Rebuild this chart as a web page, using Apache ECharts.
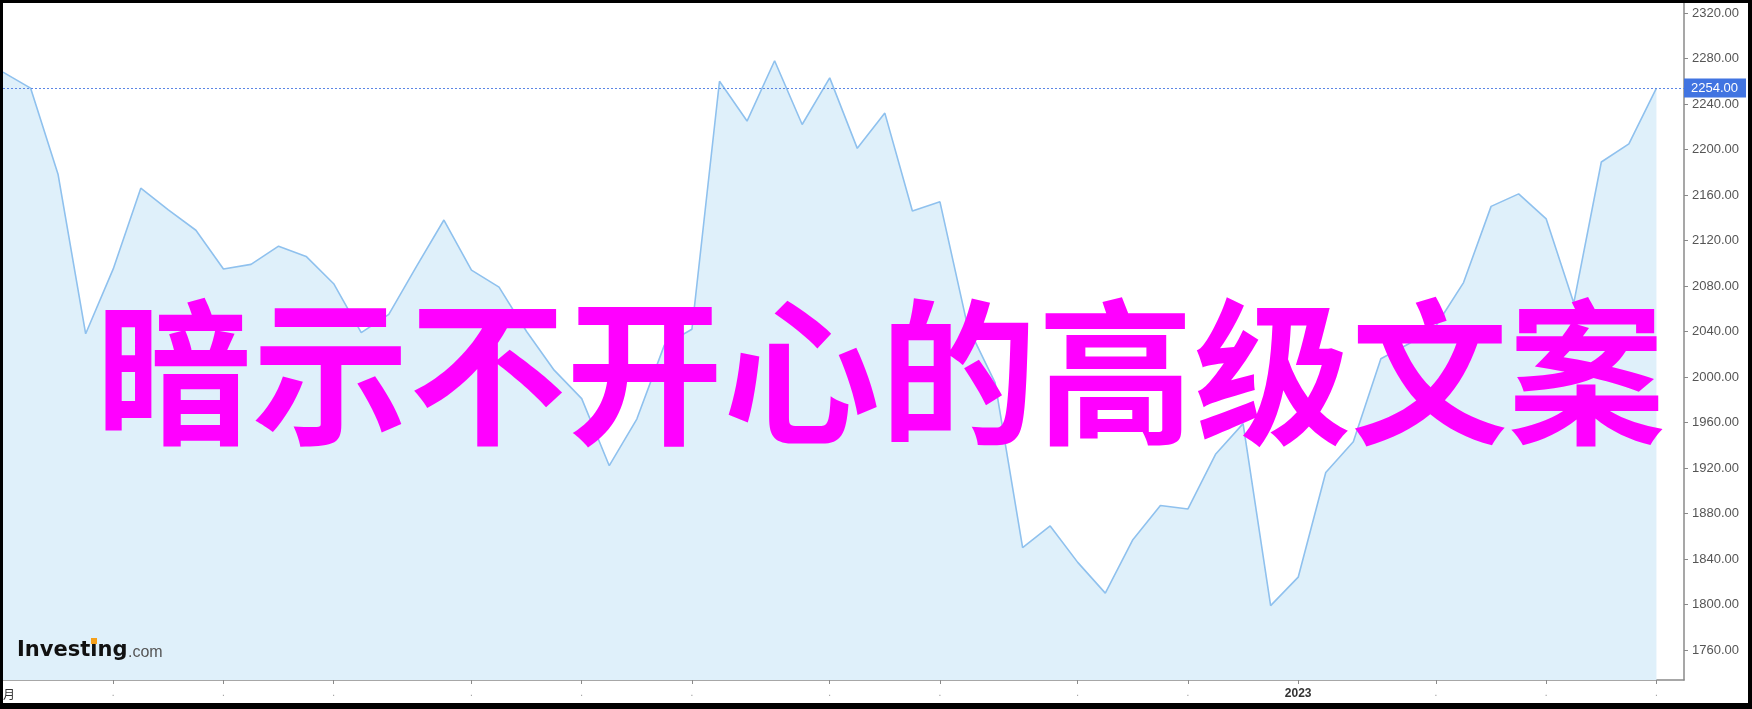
<!DOCTYPE html>
<html>
<head>
<meta charset="utf-8">
<script src="https://cdn.jsdelivr.net/npm/echarts@6/dist/echarts.min.js"></script>
<style>
html,body{margin:0;padding:0;background:#000;width:1752px;height:709px;overflow:hidden;}
#chart{position:absolute;left:3px;top:3px;width:1745px;height:700px;background:#fff;}
</style>
</head>
<body>
<div id="chart"></div>
<script>
// Weekly categories (last one is an empty slot before the price axis)
const categories = [
 '2022-02-06','2022-02-13','2022-02-20','2022-02-27','2022-03-06','2022-03-13','2022-03-20','2022-03-27',
 '2022-04-03','2022-04-10','2022-04-17','2022-04-24','2022-05-01','2022-05-08','2022-05-15','2022-05-22',
 '2022-05-29','2022-06-05','2022-06-12','2022-06-19','2022-06-26','2022-07-03','2022-07-10','2022-07-17',
 '2022-07-24','2022-07-31','2022-08-07','2022-08-14','2022-08-21','2022-08-28','2022-09-04','2022-09-11',
 '2022-09-18','2022-09-25','2022-10-02','2022-10-09','2022-10-16','2022-10-23','2022-10-30','2022-11-06',
 '2022-11-13','2022-11-20','2022-11-27','2022-12-04','2022-12-11','2022-12-18','2022-12-25','2023-01-01',
 '2023-01-08','2023-01-15','2023-01-22','2023-01-29','2023-02-05','2023-02-12','2023-02-19','2023-02-26',
 '2023-03-05','2023-03-12','2023-03-19','2023-03-26','2023-04-02','2023-04-09'
];
const prices = [
 2268, 2254, 2178, 2038, 2095, 2166, 2147, 2129, 2095, 2099,
 2115, 2106, 2082, 2039, 2055, 2097, 2138, 2094, 2079, 2040,
 2006, 1981, 1922, 1963, 2028, 2042, 2260, 2225, 2278, 2222,
 2263, 2201, 2232, 2146, 2154, 2045, 1995, 1850, 1869, 1837,
 1810, 1857, 1887, 1884, 1932, 1959, 1799, 1824, 1916, 1943,
 2016, 2029, 2045, 2083, 2150, 2161, 2139, 2065, 2189, 2205,
 2254
];
const lastPrice = 2254;
const tickIdx = [4, 8, 12, 17, 21, 25, 30, 34, 39, 43, 47, 52, 56, 60];
const tickLabels = ['.', '.', '.', '.', '.', '.', '.', '.', '.', '.', '2023', '.', '.', '.'];
const yTicks = [1760, 1800, 1840, 1880, 1920, 1960, 2000, 2040, 2080, 2120, 2160, 2200, 2240, 2280, 2320];
const title = '暗示不开心的高级文案';

const chart = echarts.init(document.getElementById('chart'), null, {renderer: 'canvas'});
const isTick = (i) => tickIdx.indexOf(i) >= 0;

const option = {
  animation: false,
  backgroundColor: '#fff',
  grid: {left: 0, right: 64, top: 0, bottom: 23, containLabel: false},
  xAxis: {
    type: 'category',
    data: categories,
    boundaryGap: false,
    axisLine: {show: true, lineStyle: {color: '#8a8a8a', width: 1.5}},
    axisTick: {show: true, interval: (i) => isTick(i), length: 4, lineStyle: {color: '#8a8a8a'}},
    axisLabel: {
      show: true,
      interval: (i) => isTick(i),
      margin: 8,
      formatter: (v, i) => {
        const t = tickLabels[tickIdx.indexOf(i)];
        return t === '.' ? '{d|.}' : '{y|' + t + '}';
      },
      rich: {
        d: {color: '#9a9a9a', fontSize: 10, fontFamily: 'Liberation Sans'},
        y: {color: '#333', fontSize: 12, fontWeight: 'bold', fontFamily: 'Liberation Sans'}
      }
    },
    splitLine: {show: false}
  },
  yAxis: {
    type: 'value',
    position: 'right',
    min: 1733.6,
    max: 2328.8,
    splitLine: {show: false},
    axisLine: {show: true, lineStyle: {color: '#8a8a8a', width: 1.5}},
    axisTick: {show: true, customValues: yTicks, length: 4, lineStyle: {color: '#8a8a8a'}},
    axisLabel: {
      show: true,
      customValues: yTicks,
      margin: 8,
      color: '#555',
      fontSize: 13,
      fontFamily: 'Liberation Sans',
      formatter: (v) => Number(v).toFixed(2)
    }
  },
  series: [{
    type: 'line',
    data: prices,
    symbol: 'none',
    lineStyle: {color: '#8fc1ee', width: 1.6},
    areaStyle: {color: '#dff0fa', opacity: 1, origin: 'start'},
    z: 2,
    markLine: {
      silent: true,
      symbol: 'none',
      data: [{yAxis: lastPrice}],
      lineStyle: {type: [2, 2], color: '#5b86e5', width: 1},
      label: {
        show: true,
        position: 'end',
        distance: 0,
        formatter: () => lastPrice.toFixed(2),
        color: '#fff',
        backgroundColor: '#4174e1',
        fontSize: 13,
        fontFamily: 'Liberation Sans',
        padding: [3, 8, 3, 7]
      },
      z: 5
    }
  }],
  graphic: [
    {
      type: 'text', z: 10,
      style: {text: '月', x: 0, y: 685, fill: '#333', font: '12px "Noto Sans CJK SC"', align: 'left', verticalAlign: 'top'}
    },
    {
      type: 'text', z: 10,
      style: {text: 'Investing', x: 14, y: 637, fill: '#111', font: 'bold 21px "DejaVu Sans"', align: 'left', verticalAlign: 'top'}
    },
    {
      type: 'rect', z: 11,
      shape: {x: 88, y: 635, width: 6, height: 6},
      style: {fill: '#f5a01a'}
    },
    {
      type: 'text', z: 10,
      style: {text: '.com', x: 125, y: 642, fill: '#555', font: '16px "Liberation Sans"', align: 'left', verticalAlign: 'top'}
    },
    {
      type: 'text', z: 20,
      style: {text: title, x: 877, y: 369, fill: '#ff00ff', font: 'bold 157px "Noto Sans CJK SC"', align: 'center', verticalAlign: 'middle'}
    }
  ]
};
chart.setOption(option);
</script>
</body>
</html>
